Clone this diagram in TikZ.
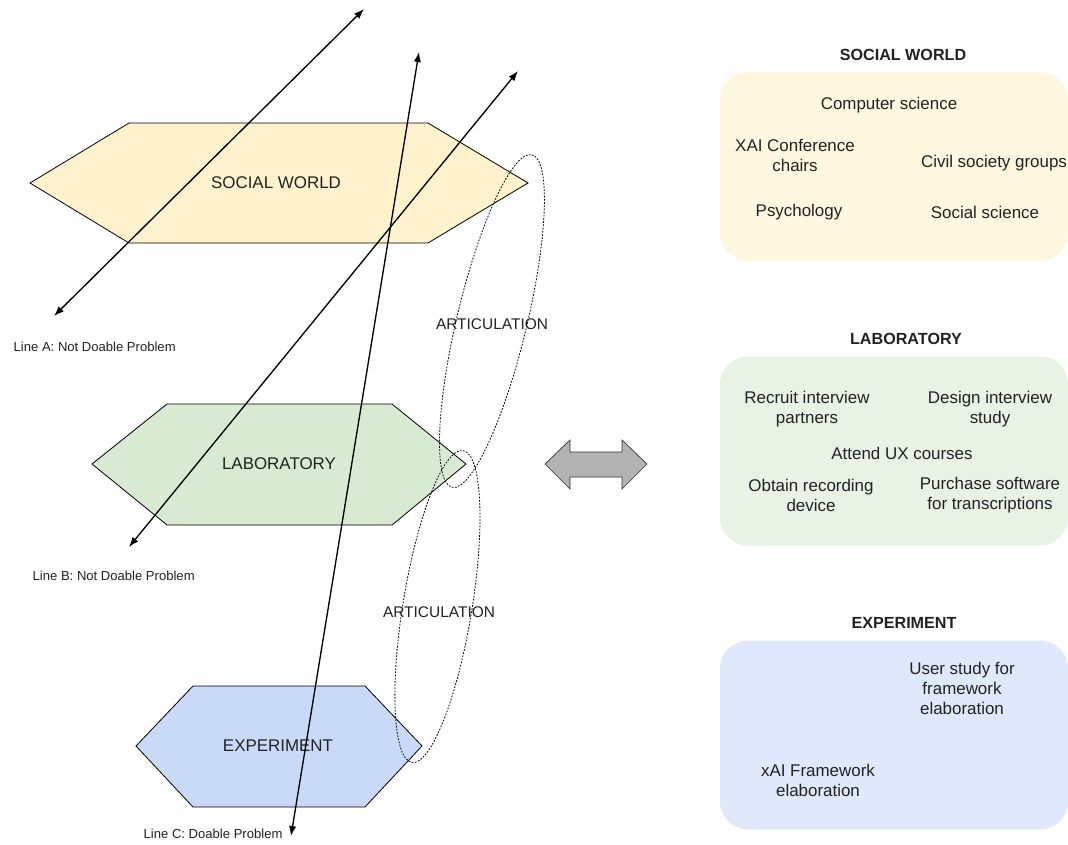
\documentclass[tikz,border=0pt]{standalone}
\usepackage{fontspec}
\setmainfont{Liberation Sans}
\usetikzlibrary{arrows.meta}

\definecolor{swfill}{HTML}{FFF2CC}
\definecolor{labfill}{HTML}{D9EAD3}
\definecolor{expfill}{HTML}{C9DAF8}
\definecolor{dblgray}{HTML}{B3B3B3}
\definecolor{inkgray}{HTML}{222222}

\tikzset{
  plane/.style={draw=black, line width=0.6pt},
  problem/.style={line width=1pt, {Latex[length=7.5pt,width=5.5pt]}-{Latex[length=7.5pt,width=5.5pt]}},
  articulation/.style={draw=black, line width=0.6pt, dash pattern=on 1.3pt off 1.1pt},
  planelabel/.style={text=inkgray, font=\fontsize{12.7}{15}\selectfont},
  artlabel/.style={text=inkgray, font=\fontsize{11.6}{14}\selectfont},
  linelabel/.style={text=inkgray, anchor=west, font=\fontsize{9.8}{12}\selectfont},
  panel/.style={rounded corners=21pt, minimum width=261pt, minimum height=141.75pt, inner sep=0pt},
  paneltitle/.style={text=inkgray, font=\bfseries\fontsize{12.1}{14.5}\selectfont},
  item/.style={text=inkgray, align=center, font=\fontsize{12.7}{15}\selectfont}
}

\begin{document}
\begin{tikzpicture}[x=0.75pt, y=-0.75pt]
  \useasboundingbox (0,0) rectangle (1068,844);

  % the three planes
  \filldraw[plane, fill=swfill] (30,183) -- (129,123) -- (428,123) -- (528,183) -- (428,243) -- (129,243) -- cycle;
  \filldraw[plane, fill=labfill] (92,464) -- (167,404) -- (392,404) -- (466,464) -- (392,525) -- (167,525) -- cycle;
  \filldraw[plane, fill=expfill] (136,746) -- (193,686) -- (365,686) -- (422,746) -- (365,807) -- (193,807) -- cycle;
  \node[planelabel] (swlabel) at (276,183) {SOCIAL WORLD};
  \node[planelabel] (lablabel) at (279,464) {LABORATORY};
  \node[planelabel] (explabel) at (278,746) {EXPERIMENT};

  % problem lines
  \coordinate (lineAbot) at (54,316);
  \coordinate (lineAtop) at (364,9);
  \coordinate (lineBbot) at (129,547);
  \coordinate (lineBtop) at (518,71);
  \coordinate (lineCbot) at (291,836);
  \coordinate (lineCtop) at (419,52);
  \draw[problem] (lineAbot) -- (lineAtop);
  \draw[problem] (lineBbot) -- (lineBtop);
  \draw[problem] (lineCbot) -- (lineCtop);
  \node[linelabel] (lineAlabel) at (9,347) {Line A: Not Doable Problem};
  \node[linelabel] (lineBlabel) at (28,576) {Line B: Not Doable Problem};
  \node[linelabel] (lineClabel) at (139,834) {Line C: Doable Problem};

  % articulation loops
  \coordinate (artUp) at (492,321);
  \coordinate (artLow) at (437.5,606.5);
  \draw[articulation, rotate around={76.5:(artUp)}] (artUp) ellipse (171 and 35);
  \draw[articulation, rotate around={80.7:(artLow)}] (artLow) ellipse (158 and 34.5);
  \node[artlabel] (artUplabel) at (492,324) {ARTICULATION};
  \node[artlabel] (artLowlabel) at (439,612) {ARTICULATION};

  % double arrow
  \filldraw[draw=black!80, line width=0.5pt, fill=dblgray] (545,464) -- (570,440) -- (570,452) -- (622,452) -- (622,440) -- (647,464) -- (622,489) -- (622,477) -- (570,477) -- (570,489) -- cycle;

  % social world panel
  \node[paneltitle] (swtitle) at (903,55) {SOCIAL WORLD};
  \node[panel, fill=swfill!60] (swbox) at (894,166.5) {};
  \node[item] (cs) at (889,105) {Computer science};
  \node[item] (xai) at (795,155) {XAI Conference\\chairs};
  \node[item] (civil) at (994,163) {Civil society groups};
  \node[item] (psy) at (799,212) {Psychology};
  \node[item] (soc) at (985,212) {Social science};

  % laboratory panel
  \node[paneltitle] (labtitle) at (906,339) {LABORATORY};
  \node[panel, fill=labfill!60] (labbox) at (894,451) {};
  \node[item] (recruit) at (807,409.5) {Recruit interview\\partners};
  \node[item] (design) at (990,409.5) {Design interview\\study};
  \node[item] (attend) at (902,453) {Attend UX courses};
  \node[item] (obtain) at (811,495) {Obtain recording\\device};
  \node[item] (purchase) at (990,495) {Purchase software\\for transcriptions};

  % experiment panel
  \node[paneltitle] (exptitle) at (904,623) {EXPERIMENT};
  \node[panel, fill=expfill!60] (expbox) at (894,735) {};
  \node[item] (userstudy) at (962,688) {User study for\\framework\\elaboration};
  \node[item] (framework) at (818,780) {xAI Framework\\elaboration};
\end{tikzpicture}
\end{document}
